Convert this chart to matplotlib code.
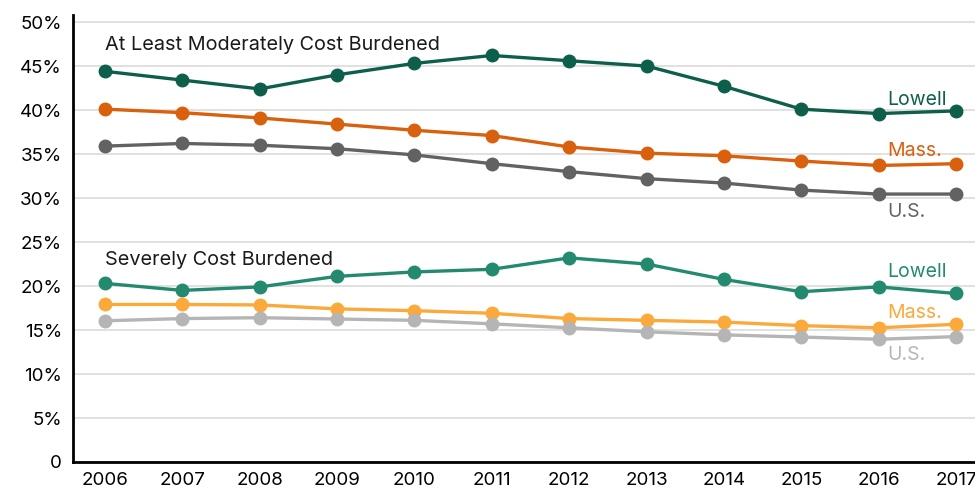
import matplotlib
matplotlib.use("Agg")
import matplotlib.pyplot as plt

years = [2006, 2007, 2008, 2009, 2010, 2011, 2012, 2013, 2014, 2015, 2016, 2017]

lowell_moderate = [44.4, 43.4, 42.4, 44.0, 45.3, 46.2, 45.6, 45.0, 42.7, 40.1, 39.6, 39.9]
mass_moderate = [40.1, 39.7, 39.1, 38.4, 37.7, 37.1, 35.8, 35.1, 34.8, 34.2, 33.7, 33.9]
us_moderate = [35.9, 36.2, 36.0, 35.6, 34.9, 33.9, 33.0, 32.2, 31.7, 30.9, 30.45, 30.45]

lowell_severe = [20.3, 19.5, 19.9, 21.1, 21.6, 21.9, 23.2, 22.5, 20.75, 19.35, 19.9, 19.15]
mass_severe = [17.9, 17.9, 17.85, 17.4, 17.2, 16.9, 16.3, 16.1, 15.9, 15.5, 15.25, 15.65]
us_severe = [16.05, 16.3, 16.4, 16.25, 16.1, 15.7, 15.25, 14.8, 14.45, 14.2, 13.95, 14.25]

y_ticks = [0, 5, 10, 15, 20, 25, 30, 35, 40, 45, 50]
y_labels = ["0", "5%", "10%", "15%", "20%", "25%", "30%", "35%", "40%", "45%", "50%"]

series = [
    (lowell_moderate, "#0d5f4b", "Lowell", 41.1),
    (mass_moderate, "#d9600c", "Mass.", 35.3),
    (us_moderate, "#626262", "U.S.", 28.45),
    (lowell_severe, "#238a70", "Lowell", 21.55),
    (mass_severe, "#fca93b", "Mass.", 16.9),
    (us_severe, "#b5b5b5", "U.S.", 12.15),
]

plt.rcParams['font.family'] = ['Inter', 'DejaVu Sans']

fig = plt.figure(figsize=(9.75, 4.91), dpi=100)
ax = fig.add_axes([73/975, 1 - 462/491, 1 - 73/975, (462 - 15)/491])

for vals, color, label, ly in series:
    ax.plot(years, vals, color=color, lw=2.4, marker="o", ms=9, zorder=3, solid_capstyle="round")
    ax.text(2016.11, ly, label, color=color, fontsize=14, va="center", ha="left")

ax.text(2006.0, 47.4, "At Least Moderately Cost Burdened", fontsize=14.3, color="#1a1a1a", va="center", ha="left")
ax.text(2006.0, 22.9, "Severely Cost Burdened", fontsize=14.3, color="#1a1a1a", va="center", ha="left")

ax.set_xlim(2005.586, 2017.246)
ax.set_ylim(0, 50.8)
ax.set_xticks(years)
ax.set_xticklabels([str(y) for y in years], fontsize=13.5)
ax.set_yticks(y_ticks)
ax.set_yticklabels(y_labels, fontsize=13.5)
ax.tick_params(axis="x", length=0, pad=7)
ax.tick_params(axis="y", length=0, pad=8)
ax.grid(axis="y", color="#dcdcdc", lw=1.2, zorder=0)
ax.set_axisbelow(True)
for s in ["top", "right"]:
    ax.spines[s].set_visible(False)
for s in ["left", "bottom"]:
    ax.spines[s].set_linewidth(2)
    ax.spines[s].set_color("#000000")

fig.savefig("out.png", dpi=100)
